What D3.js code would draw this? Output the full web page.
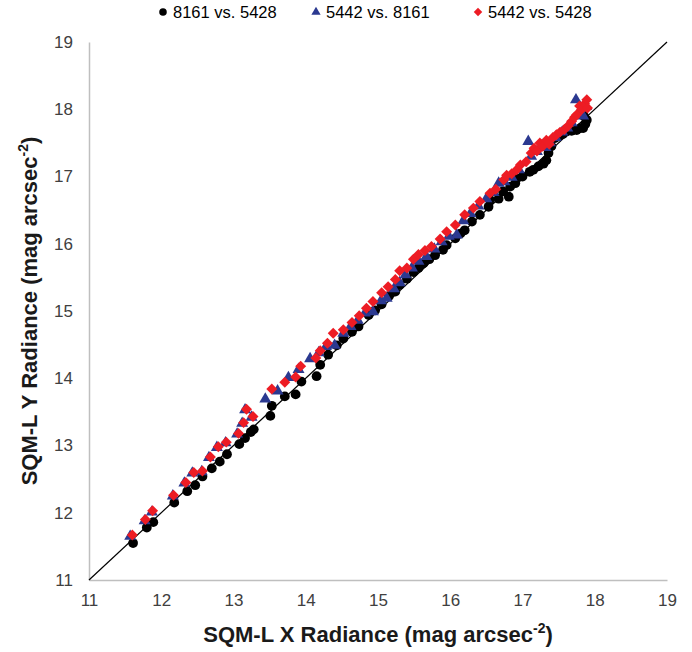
<!DOCTYPE html>
<html>
<head>
<meta charset="utf-8">
<script src="https://cdn.jsdelivr.net/npm/d3@7"></script>
<style>
  body { margin: 0; background: #fff; }
  svg { font-family: "Liberation Sans", Arial, sans-serif; }
  .tick text { fill: #404040; font-size: 17px; }
</style>
</head>
<body>
<svg id="chart" width="692" height="652"></svg>
<script>
// 8161 vs. 5428 (black circles)
const blackX = [11.61, 11.80, 11.89, 12.18, 12.36, 12.47, 12.57, 12.70, 12.81, 12.91, 13.08, 13.16, 13.24, 13.28, 13.51, 13.53, 13.71, 13.86, 13.94, 14.15, 14.20, 14.31, 14.43, 14.52, 14.64, 14.73, 14.87, 14.96, 15.05, 15.15, 15.24, 15.30, 15.40, 15.49, 15.56, 15.63, 15.71, 15.79, 15.90, 15.95, 16.07, 16.14, 16.20, 16.30, 16.41, 16.53, 16.55, 16.67, 16.73, 16.81, 16.83, 16.90, 16.92, 17.00, 17.10, 17.15, 17.22, 17.29, 17.33, 17.36, 17.40, 17.45, 17.50, 17.56, 17.61, 17.68, 17.75, 17.80, 17.84, 17.87, 17.89, 17.85];
const blackY = [11.55, 11.78, 11.86, 12.15, 12.32, 12.41, 12.54, 12.66, 12.76, 12.87, 13.02, 13.11, 13.20, 13.24, 13.44, 13.59, 13.73, 13.76, 13.95, 14.03, 14.20, 14.35, 14.49, 14.59, 14.69, 14.77, 14.94, 15.01, 15.10, 15.22, 15.29, 15.39, 15.48, 15.58, 15.64, 15.71, 15.77, 15.83, 15.91, 15.98, 16.08, 16.15, 16.20, 16.33, 16.43, 16.55, 16.65, 16.67, 16.78, 16.70, 16.85, 16.90, 16.97, 17.00, 17.07, 17.10, 17.15, 17.19, 17.24, 17.35, 17.45, 17.57, 17.60, 17.63, 17.67, 17.68, 17.69, 17.72, 17.72, 17.78, 17.84, 17.90];

// 5442 vs. 8161 (blue triangles)
const blueX = [11.57, 11.77, 11.87, 12.16, 12.32, 12.43, 12.56, 12.66, 12.77, 12.89, 13.05, 13.12, 13.16, 13.25, 13.44, 13.61, 13.76, 13.90, 14.06, 14.18, 14.28, 14.40, 14.52, 14.62, 14.72, 14.82, 14.93, 15.04, 15.12, 15.22, 15.30, 15.38, 15.47, 15.56, 15.67, 15.78, 15.88, 15.98, 16.09, 16.18, 16.28, 16.39, 16.50, 16.60, 16.67, 16.75, 16.85, 16.95, 17.08, 17.12, 17.20, 17.26, 17.32, 17.38, 17.46, 17.55, 17.62, 17.68, 17.74, 17.78, 17.84, 17.88];
const blueY = [11.65, 11.88, 12.01, 12.25, 12.44, 12.59, 12.61, 12.82, 12.97, 13.04, 13.17, 13.33, 13.53, 13.42, 13.69, 13.81, 14.01, 14.13, 14.29, 14.38, 14.47, 14.49, 14.67, 14.77, 14.86, 14.97, 14.99, 15.15, 15.19, 15.33, 15.42, 15.54, 15.64, 15.74, 15.81, 15.92, 16.03, 16.11, 16.13, 16.34, 16.45, 16.56, 16.67, 16.76, 16.90, 16.92, 16.99, 17.10, 17.52, 17.30, 17.37, 17.45, 17.43, 17.50, 17.58, 17.66, 17.72, 17.80, 18.14, 17.95, 17.90, 18.04];

// 5442 vs. 5428 (red diamonds)
const redX = [11.60, 11.78, 11.88, 12.17, 12.34, 12.45, 12.57, 12.68, 12.79, 12.90, 13.07, 13.14, 13.18, 13.27, 13.53, 13.71, 13.86, 13.93, 14.14, 14.20, 14.30, 14.38, 14.52, 14.64, 14.74, 14.84, 14.93, 15.05, 15.14, 15.24, 15.30, 15.40, 15.49, 15.56, 15.65, 15.74, 15.86, 15.95, 16.07, 16.20, 16.32, 16.41, 16.55, 16.63, 16.74, 16.78, 16.85, 16.92, 16.97, 17.05, 17.12, 17.16, 17.20, 17.24, 17.28, 17.33, 17.37, 17.42, 17.47, 17.52, 17.58, 17.63, 17.68, 17.72, 17.75, 17.79, 17.82, 17.86, 17.89, 17.90];
const redY = [11.67, 11.90, 12.03, 12.26, 12.45, 12.60, 12.62, 12.83, 12.98, 13.05, 13.18, 13.34, 13.54, 13.43, 13.84, 13.94, 14.02, 14.18, 14.30, 14.41, 14.52, 14.67, 14.72, 14.83, 14.93, 15.04, 15.14, 15.27, 15.36, 15.47, 15.60, 15.64, 15.77, 15.84, 15.90, 15.96, 16.07, 16.18, 16.28, 16.43, 16.53, 16.63, 16.75, 16.81, 16.95, 17.02, 17.04, 17.10, 17.17, 17.22, 17.35, 17.42, 17.38, 17.50, 17.45, 17.54, 17.48, 17.58, 17.62, 17.66, 17.70, 17.75, 17.82, 17.88, 17.92, 18.05, 18.00, 18.08, 18.14, 18.02];

const axisTicks = [11, 12, 13, 14, 15, 16, 17, 18, 19];
const seriesNames = ["8161 vs. 5428", "5442 vs. 8161", "5442 vs. 5428"];

const svg = d3.select("#chart");
const margin = { left: 89, right: 25, top: 42, bottom: 72 };
const W = 692, H = 652;

const x = d3.scaleLinear().domain([11, 19]).range([margin.left, W - margin.right]);
const y = d3.scaleLinear().domain([11, 19]).range([H - margin.bottom, margin.top]);

// axes (no tick marks, light grey lines)
const xAxis = svg.append("g")
  .attr("transform", `translate(0,${y(11)})`)
  .call(d3.axisBottom(x).tickValues(axisTicks).tickSize(0).tickPadding(14));
const yAxis = svg.append("g")
  .attr("transform", `translate(${x(11)},0)`)
  .call(d3.axisLeft(y).tickValues(axisTicks).tickSize(0).tickPadding(16));
[xAxis, yAxis].forEach((g) => {
  g.select(".domain").attr("stroke", "#bfbfbf").attr("stroke-width", 1.5);
  g.selectAll("text").attr("font-family", "Liberation Sans, Arial, sans-serif");
});

// 1:1 line
svg.append("line")
  .attr("x1", x(11)).attr("y1", y(11))
  .attr("x2", x(19)).attr("y2", y(19))
  .attr("stroke", "#000").attr("stroke-width", 1.2);

// square diamond like Excel's marker
const squareDiamond = {
  draw(ctx, size) {
    const r = Math.sqrt(size / 2);
    ctx.moveTo(0, -r);
    ctx.lineTo(r, 0);
    ctx.lineTo(0, r);
    ctx.lineTo(-r, 0);
    ctx.closePath();
  },
};

const series = [
  { name: seriesNames[0], xs: blackX, ys: blackY, color: "#000000", symbol: d3.symbolCircle, size: 75 },
  { name: seriesNames[1], xs: blueX, ys: blueY, color: "#2b3990", symbol: d3.symbolTriangle, size: 62 },
  { name: seriesNames[2], xs: redX, ys: redY, color: "#ed1c24", symbol: squareDiamond, size: 60 },
];

series.forEach((s) => {
  const sym = d3.symbol().type(s.symbol).size(s.size);
  svg.append("g")
    .selectAll("path")
    .data(s.xs.map((v, i) => [v, s.ys[i]]))
    .join("path")
    .attr("d", sym)
    .attr("transform", (d) => `translate(${x(d[0])},${y(d[1])})`)
    .attr("fill", s.color);
});

// legend
const legendPos = [163, 316, 478];
series.forEach((s, i) => {
  const g = svg.append("g").attr("transform", `translate(${legendPos[i]},12)`);
  g.append("path")
    .attr("d", d3.symbol().type(s.symbol).size(s.size * 0.6)())
    .attr("fill", s.color);
  g.append("text")
    .attr("x", 10).attr("y", 6)
    .attr("font-size", 16.5)
    .attr("fill", "#000")
    .text(s.name);
});

// axis titles
const xt = svg.append("text")
  .attr("x", (x(11) + x(19)) / 2).attr("y", 642)
  .attr("text-anchor", "middle")
  .attr("font-size", 22).attr("font-weight", "bold").attr("fill", "#1a1a1a");
xt.append("tspan").text("SQM-L X Radiance (mag arcsec");
xt.append("tspan").attr("font-size", 14).attr("dy", -9).text("-2");
xt.append("tspan").attr("dy", 9).text(")");

const yt = svg.append("text")
  .attr("transform", `translate(37,${(y(11) + y(19)) / 2}) rotate(-90)`)
  .attr("text-anchor", "middle")
  .attr("font-size", 22).attr("font-weight", "bold").attr("fill", "#1a1a1a");
yt.append("tspan").text("SQM-L Y Radiance (mag arcsec");
yt.append("tspan").attr("font-size", 14).attr("dy", -9).text("-2");
yt.append("tspan").attr("dy", 9).text(")");
</script>
</body>
</html>
